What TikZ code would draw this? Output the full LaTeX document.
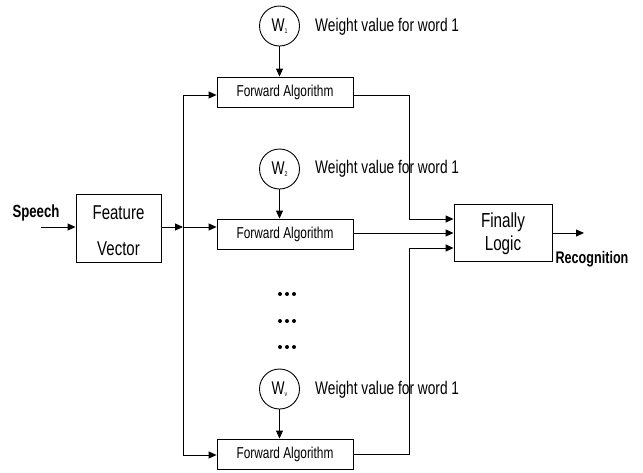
\documentclass[tikz,border=0pt]{standalone}
\usepackage{fontspec}
\setmainfont[FakeStretch=0.75]{Liberation Sans}
\usetikzlibrary{arrows.meta}
\tikzset{
  x=1pt, y=-1pt,
  wire/.style={line width=0.9pt},
  arr/.style={wire, -{Triangle[length=8pt,width=7pt]}},
  fabox/.style={draw, line width=0.9pt, minimum width=136pt, minimum height=30pt,
    inner sep=0pt, font=\fontsize{15.8}{15.8}\selectfont},
  bigbox/.style={draw, line width=0.9pt, inner sep=0pt},
  boxtext/.style={inner sep=0pt, align=center},
  wcirc/.style={draw, circle, line width=0.9pt, minimum size=40pt, inner sep=0pt,
    font=\fontsize{18.4}{18.4}\selectfont},
  wlabel/.style={anchor=west, inner sep=0pt, font=\fontsize{18.3}{18.3}\selectfont},
  iolabel/.style={inner sep=0pt, font=\bfseries\fontsize{16.8}{16.8}\selectfont},
  dot/.style={fill, circle, minimum size=4pt, inner sep=0pt}
}
\newcommand{\wsub}[1]{W\raisebox{-2pt}{\fontsize{7}{7}\selectfont #1}}
\begin{document}
\begin{tikzpicture}
\useasboundingbox (0,0) rectangle (643,472);

% input and feature extraction
\node[bigbox, minimum width=85pt, minimum height=68pt] (fv) at (118.5,228) {};
\node[boxtext, font=\fontsize{20}{36}\selectfont] (fvt) at (118.5,231) {Feature\\Vector};
\node[iolabel, font=\bfseries\fontsize{17.6}{17.6}\selectfont] (speech) at (36,213) {Speech};
\coordinate (spst) at (41,227);
\coordinate (jn) at (183,227);
\coordinate (bt) at (183,95);
\coordinate (bb) at (183,455);

% per-word branches
\node[fabox] (fa1) at (285,92) {Forward Algorithm};
\node[fabox] (fa2) at (285,234) {Forward Algorithm};
\node[fabox] (fa3) at (285,454) {Forward Algorithm};

\node[wcirc] (w1) at (279.5,26) {\wsub{1}};
\node[wcirc] (w2) at (279.5,169) {\wsub{2}};
\node[wcirc] (w3) at (279.5,389) {\wsub{v}};

\node[wlabel] (l1) at (315,27) {Weight value for word 1};
\node[wlabel] (l2) at (315,169) {Weight value for word 1};
\node[wlabel] (l3) at (315,390) {Weight value for word 1};

% ellipsis between branches
\foreach \yy [count=\i] in {294,321,347} {
  \node[dot] (da\i) at (280,\yy) {};
  \node[dot] (db\i) at (287,\yy) {};
  \node[dot] (dc\i) at (294,\yy) {};
}

% decision stage
\node[bigbox, minimum width=98pt, minimum height=57pt] (fl) at (503,232.5) {};
\node[boxtext, font=\fontsize{20.3}{23}\selectfont] (flt) at (503,234) {Finally\\Logic};
\node[iolabel] (rec) at (592,259) {Recognition};
\coordinate (out) at (584,233);
\coordinate (mx) at (409,0);

% connectors
\draw[arr] (spst) -- (spst -| fv.west);
\draw[arr] (jn -| fv.east) -- (jn);
\draw[wire] (bt) -- (bb);
\draw[arr] (bt) -- (bt -| fa1.west);
\draw[arr] (jn) -- (jn -| fa2.west);
\draw[arr] (bb) -- (bb -| fa3.west);

\draw[arr] (w1.south) -- (w1.south |- fa1.north);
\draw[arr] (w2.south) -- (w2.south |- fa2.north);
\draw[arr] (w3.south) -- (w3.south |- fa3.north);

\draw[arr] (fa1.east |- bt) -- (mx |- bt) -- (mx |- 0,219) -- (fl.west |- 0,219);
\draw[arr] (fa2.east |- out) -- (fl.west |- out);
\draw[arr] (fa3.east) -- (mx |- fa3.east) -- (mx |- 0,248) -- (fl.west |- 0,248);
\draw[arr] (fl.east |- out) -- (out);
\end{tikzpicture}
\end{document}
